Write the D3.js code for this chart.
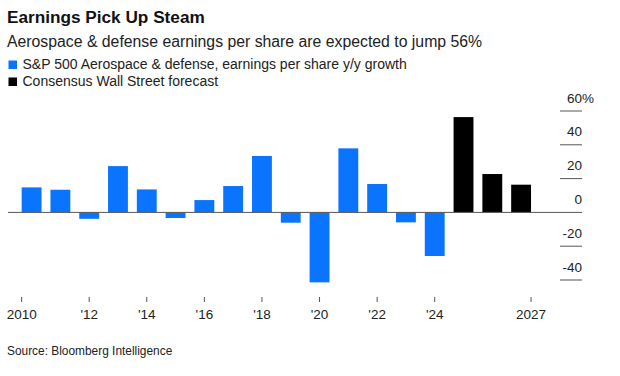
<!DOCTYPE html>
<html>
<head>
<meta charset="utf-8">
<script src="https://cdn.jsdelivr.net/npm/d3@7"></script>
<style>
  body { margin: 0; background: #fff; }
  svg { display: block; font-family: "Liberation Sans", Arial, sans-serif; }
</style>
</head>
<body>
<div id="chart"></div>
<script>
const years = d3.range(2010, 2028);
const growth = [14.8, 13.4, -3.8, 27.4, 13.6, -3.3, 7.3, 15.6, 33.4, -6.1, -41.4, 37.9, 16.8, -5.9, -25.8, 56.4, 22.7, 16.4];
const forecastYears = [2025, 2026, 2027];
const yTicks = [-40, -20, 0, 20, 40, 60];
const xTickYears = [2010, 2012, 2014, 2016, 2018, 2020, 2022, 2024, 2027];
const legendItems = ["S&P 500 Aerospace & defense, earnings per share y/y growth", "Consensus Wall Street forecast"];

const width = 620, height = 376;
const blue = '#0a74ff', black = '#000';

const svg = d3.select('#chart').append('svg').attr('width', width).attr('height', height);

// header
svg.append('text').attr('x', 7).attr('y', 22.7)
    .attr('font-size', 17.2).attr('font-weight', 'bold').attr('fill', '#111')
    .text('Earnings Pick Up Steam');
svg.append('text').attr('x', 7).attr('y', 46.5)
    .attr('font-size', 15.8).attr('fill', '#222')
    .text('Aerospace & defense earnings per share are expected to jump 56%');

const legend = svg.append('g');
legendItems.forEach((label, i) => {
    legend.append('rect').attr('x', 8.5).attr('y', 60.5 + i * 17).attr('width', 8.5).attr('height', 8.5)
        .attr('fill', i == 0 ? blue : black);
    legend.append('text').attr('x', 22.5).attr('y', 69.3 + i * 17)
        .attr('font-size', 14).attr('fill', '#222').text(label);
});

// scales
const x = d3.scaleBand().domain(years).range([17.2, 535.5]).paddingInner(0.31).paddingOuter(0.155);
const y = d3.scaleLinear().domain([-40, 60]).range([280, 111]);

// bars
svg.append('g').selectAll('rect').data(years)
    .enter()
    .append('rect')
    .attr('x', d => x(d))
    .attr('width', x.bandwidth())
    .attr('y', (d, i) => y(Math.max(0, growth[i])))
    .attr('height', (d, i) => Math.abs(y(growth[i]) - y(0)))
    .attr('fill', d => forecastYears.includes(d) ? black : blue);

// y axis (right)
const yAxis = svg.append('g');
yTicks.forEach(t => {
    if (t == 0) {
        yAxis.append('line').attr('x1', 8).attr('x2', 582).attr('y1', y(0)).attr('y2', y(0))
            .attr('stroke', '#555').attr('stroke-width', 1);
    } else {
        yAxis.append('line').attr('x1', 560).attr('x2', 582).attr('y1', y(t)).attr('y2', y(t))
            .attr('stroke', '#555').attr('stroke-width', 1);
    }
    yAxis.append('text').attr('x', 582).attr('y', y(t) - 8.5)
        .attr('font-size', 13.5).attr('fill', '#222').attr('text-anchor', 'end')
        .text(t);
    if (t == 60) {
        yAxis.append('text').attr('x', 582).attr('y', y(t) - 8.5)
            .attr('font-size', 13.5).attr('fill', '#222').text('%');
    }
});

// x axis
const tickX = d => d == years[0] ? x(d) : d == years[years.length - 1] ? x(d) + x.bandwidth() : x(d) + x.bandwidth() / 2;
const xAxis = svg.append('g');
xTickYears.forEach(d => {
    xAxis.append('line').attr('x1', tickX(d)).attr('x2', tickX(d)).attr('y1', 297).attr('y2', 302)
        .attr('stroke', '#555').attr('stroke-width', 1);
    xAxis.append('text').attr('x', tickX(d)).attr('y', 319.3)
        .attr('font-size', 13.5).attr('fill', '#222').attr('text-anchor', 'middle')
        .text(d == 2010 || d == 2027 ? d : "'" + String(d).slice(2));
});

svg.append('text').attr('x', 7).attr('y', 355)
    .attr('font-size', 11.9).attr('fill', '#222')
    .text('Source: Bloomberg Intelligence');
</script>
</body>
</html>
